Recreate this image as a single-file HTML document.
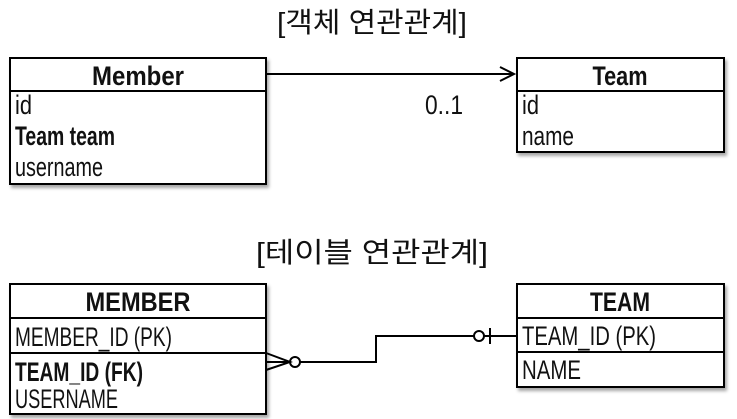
<!DOCTYPE html>
<html><head><meta charset="utf-8"><style>body{margin:0;background:#fff}svg{display:block}text{font-family:"Liberation Sans","Noto Sans CJK KR",sans-serif;fill:#111}</style></head><body>
<svg width="737" height="419" viewBox="0 0 737 419" xmlns="http://www.w3.org/2000/svg">
<defs><filter id="s" x="-5%" y="-5%" width="115%" height="120%"><feDropShadow dx="2" dy="3" stdDeviation="1.5" flood-opacity="0.35"/></filter></defs>
<text x="372" y="32" font-size="28" text-anchor="middle" textLength="190" lengthAdjust="spacingAndGlyphs">[객체 연관관계]</text>
<text x="372" y="262" font-size="28" text-anchor="middle" textLength="232" lengthAdjust="spacingAndGlyphs">[테이블 연관관계]</text>
<g fill="#fff" stroke="#000" stroke-width="2" filter="url(#s)">
<rect x="10" y="58" width="256" height="126"/>
<rect x="517" y="58" width="207" height="94"/>
<rect x="10" y="284" width="256" height="130"/>
<rect x="517" y="284" width="207" height="103"/>
</g>
<g stroke="#000" stroke-width="2" fill="none">
<line x1="10" y1="91" x2="266" y2="91"/>
<line x1="517" y1="91" x2="724" y2="91"/>
<line x1="10" y1="318" x2="266" y2="318"/>
<line x1="10" y1="353" x2="266" y2="353"/>
<line x1="517" y1="318" x2="724" y2="318"/>
<line x1="517" y1="352" x2="724" y2="352"/>
<line x1="266" y1="74" x2="514" y2="74"/>
<polyline points="500,67 514,74 500,81"/>
<polyline points="266,353 290,362 266,370"/>
<line x1="266" y1="362" x2="290" y2="362"/>
<circle cx="295" cy="362" r="5"/>
<polyline points="300,362 376,362 376,336 474,336"/>
<circle cx="479" cy="336" r="5"/>
<line x1="484" y1="336" x2="517" y2="336"/>
<line x1="490" y1="328" x2="490" y2="344"/>
</g>
<g font-size="27">
<text x="138" y="85" text-anchor="middle" font-weight="bold" textLength="92" lengthAdjust="spacingAndGlyphs">Member</text>
<text x="15" y="114" textLength="17" lengthAdjust="spacingAndGlyphs">id</text>
<text x="15" y="145" font-weight="bold" textLength="100" lengthAdjust="spacingAndGlyphs">Team team</text>
<text x="15" y="176" textLength="88" lengthAdjust="spacingAndGlyphs">username</text>
<text x="620" y="85" text-anchor="middle" font-weight="bold" textLength="55" lengthAdjust="spacingAndGlyphs">Team</text>
<text x="522" y="114" textLength="17" lengthAdjust="spacingAndGlyphs">id</text>
<text x="522" y="145" textLength="52" lengthAdjust="spacingAndGlyphs">name</text>
<text x="425" y="114" textLength="38" lengthAdjust="spacingAndGlyphs">0..1</text>
<text x="138" y="311" text-anchor="middle" font-weight="bold" textLength="105" lengthAdjust="spacingAndGlyphs">MEMBER</text>
<text x="15" y="346" textLength="157" lengthAdjust="spacingAndGlyphs">MEMBER_ID (PK)</text>
<text x="15" y="381" font-weight="bold" textLength="128" lengthAdjust="spacingAndGlyphs">TEAM_ID (FK)</text>
<text x="15" y="408" textLength="103" lengthAdjust="spacingAndGlyphs">USERNAME</text>
<text x="620" y="311" text-anchor="middle" font-weight="bold" textLength="60" lengthAdjust="spacingAndGlyphs">TEAM</text>
<text x="522" y="345" textLength="134" lengthAdjust="spacingAndGlyphs">TEAM_ID (PK)</text>
<text x="522" y="379" textLength="59" lengthAdjust="spacingAndGlyphs">NAME</text>
</g>
</svg>
</body></html>
